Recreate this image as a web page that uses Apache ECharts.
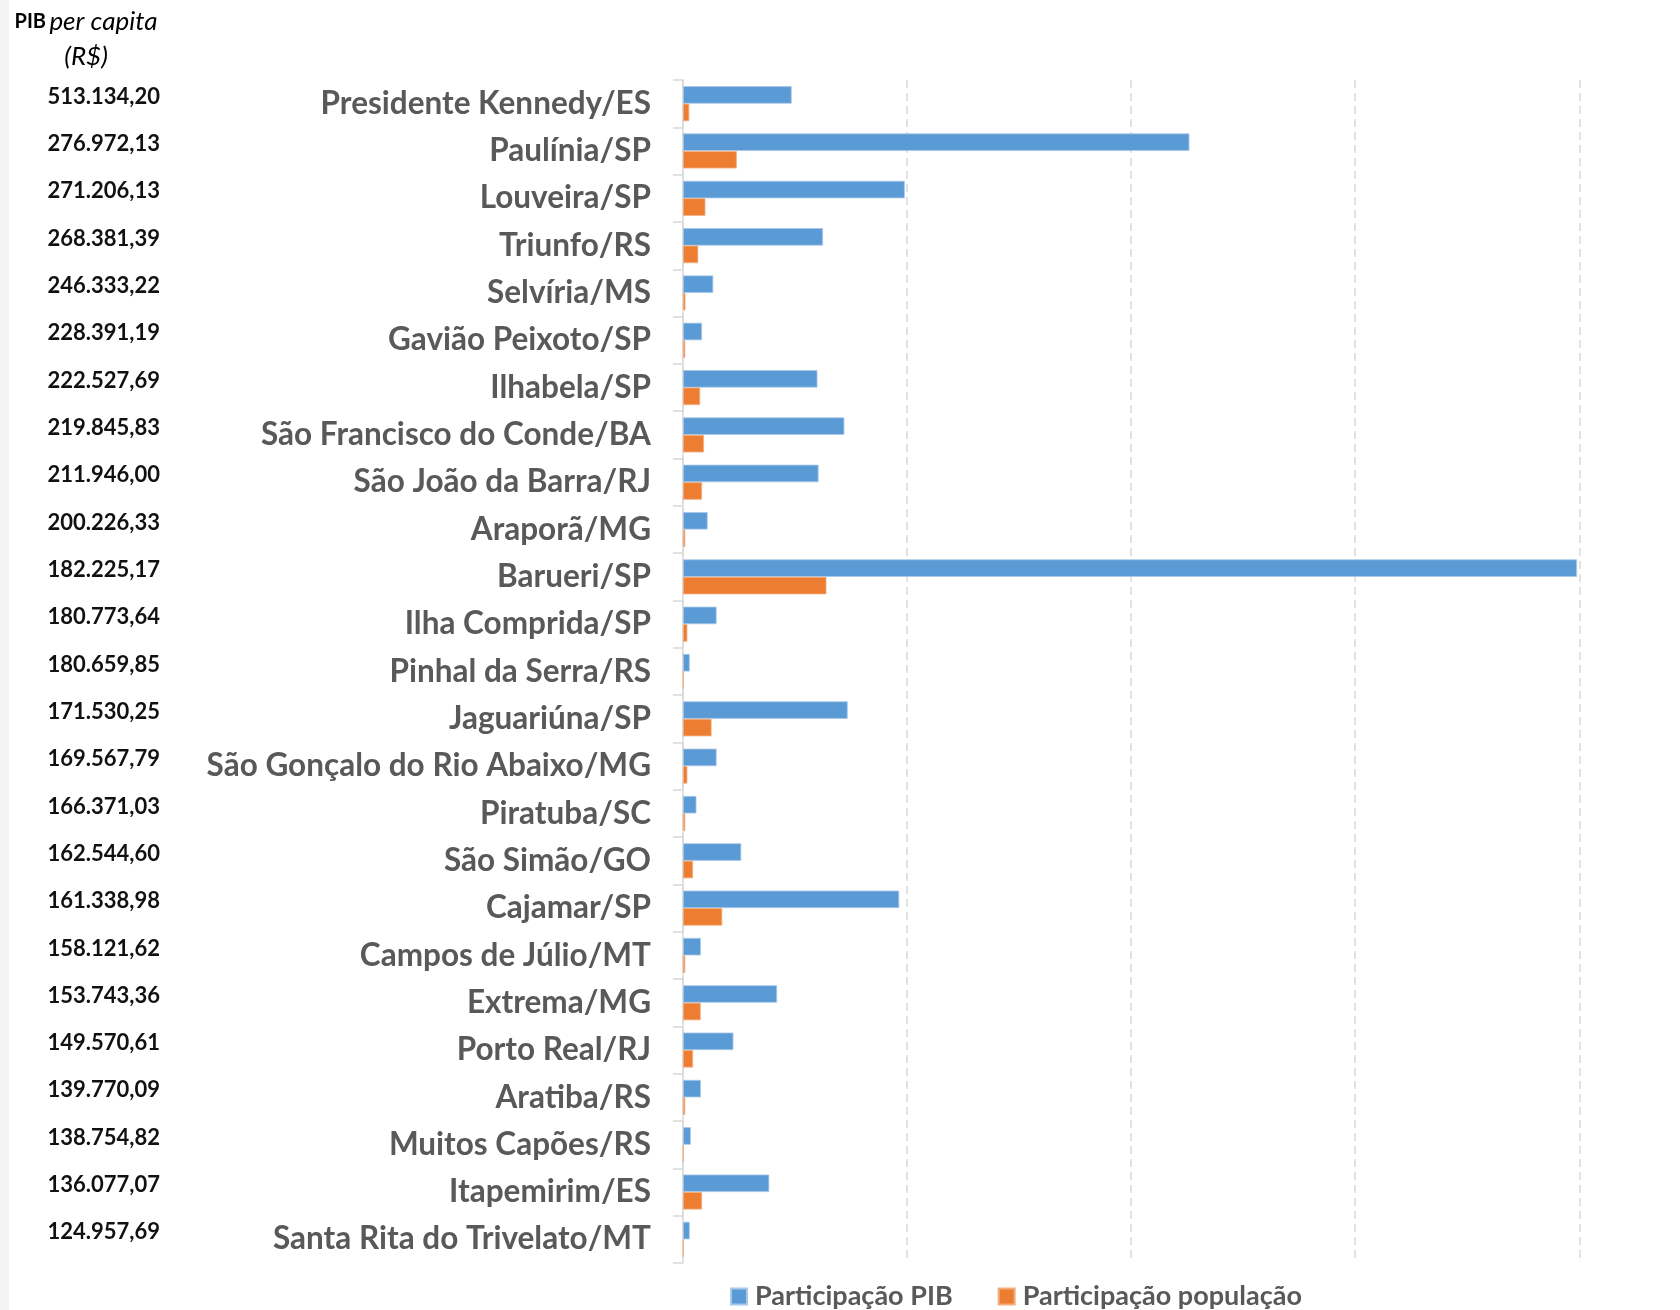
<!DOCTYPE html>
<html>
<head>
<meta charset="utf-8">
<script src="https://cdn.jsdelivr.net/npm/echarts@6/dist/echarts.min.js"></script>
<style>
html,body{margin:0;padding:0;background:#fff;}
#chart{width:1680px;height:1310px;}
</style>
</head>
<body>
<div id="chart"></div>
<script>
const categories = [
  "Presidente Kennedy/ES","Paulínia/SP","Louveira/SP","Triunfo/RS","Selvíria/MS",
  "Gavião Peixoto/SP","Ilhabela/SP","São Francisco do Conde/BA","São João da Barra/RJ","Araporã/MG",
  "Barueri/SP","Ilha Comprida/SP","Pinhal da Serra/RS","Jaguariúna/SP","São Gonçalo do Rio Abaixo/MG",
  "Piratuba/SC","São Simão/GO","Cajamar/SP","Campos de Júlio/MT","Extrema/MG",
  "Porto Real/RJ","Aratiba/RS","Muitos Capões/RS","Itapemirim/ES","Santa Rita do Trivelato/MT"
];
const pibPerCapita = [
  "513.134,20","276.972,13","271.206,13","268.381,39","246.333,22",
  "228.391,19","222.527,69","219.845,83","211.946,00","200.226,33",
  "182.225,17","180.773,64","180.659,85","171.530,25","169.567,79",
  "166.371,03","162.544,60","161.338,98","158.121,62","153.743,36",
  "149.570,61","139.770,09","138.754,82","136.077,07","124.957,69"
];
const participacaoPIB = [
  0.097,0.452,0.198,0.125,0.027,
  0.017,0.120,0.144,0.121,0.022,
  0.798,0.030,0.006,0.147,0.030,
  0.012,0.052,0.193,0.016,0.084,
  0.045,0.016,0.007,0.077,0.006
];
const participacaoPopulacao = [
  0.0056,0.048,0.020,0.0136,0.0022,
  0.002,0.0153,0.0187,0.017,0.002,
  0.128,0.0039,0.0005,0.0255,0.0039,
  0.002,0.009,0.035,0.002,0.0158,
  0.009,0.002,0.0005,0.017,0.0005
];
const seriesNames = ["Participação PIB","Participação população"];
const xTicks = {min:0, max:0.8, interval:0.2};

const chart = echarts.init(document.getElementById('chart'));
chart.setOption({
  backgroundColor:'#fff',
  animation:false,
  graphic:[{
    type:'rect', left:0, top:0, z:-1,
    shape:{width:9, height:1310},
    style:{fill:'#f4f4f4'}
  },{
    type:'text', x:86, y:4,
    style:{
      text:'{b|PIB} {i|per capita}\n{i|(R$)}',
      textAlign:'center',
      rich:{
        b:{fontFamily:'Lato',fontWeight:'bold',fontSize:20,fill:'#000',lineHeight:35},
        i:{fontFamily:'Lato',fontStyle:'italic',fontSize:26,fill:'#000',lineHeight:35}
      }
    }
  }],
  legend:{
    left:730, top:1283, padding:0,
    itemWidth:16, itemHeight:16, itemGap:45,
    icon:'rect',
    textStyle:{fontFamily:'Lato',fontWeight:'bold',fontSize:27,color:'#595959',padding:[0,0,0,3]},
    data:seriesNames
  },
  grid:{left:683, top:80, right:100.7, bottom:47, containLabel:false},
  xAxis:{
    type:'value', min:xTicks.min, max:xTicks.max, interval:xTicks.interval,
    axisLabel:{show:false}, axisLine:{show:false}, axisTick:{show:false},
    splitLine:{show:true, lineStyle:{color:'#d9d9d9', width:1.5, type:[8,5]}}
  },
  yAxis:[{
    type:'category', inverse:true, data:categories,
    axisLine:{show:true, lineStyle:{color:'#d9d9d9', width:1.5}},
    axisTick:{show:true, length:10, lineStyle:{color:'#d9d9d9', width:1.5}},
    axisLabel:{margin:32, fontFamily:'Lato', fontWeight:'bold', fontSize:31.5, color:'#595959'}
  },{
    type:'category', inverse:true, data:pibPerCapita, position:'left', offset:523,
    axisLine:{show:false}, axisTick:{show:false},
    axisLabel:{margin:0, fontFamily:'Lato', fontWeight:'bold', fontSize:22, color:'#111',
      verticalAlign:'bottom', lineHeight:14}
  }],
  series:[{
    name:seriesNames[0], type:'bar', yAxisIndex:0, data:participacaoPIB,
    barCategoryGap:'26%', barGap:'0%',
    itemStyle:{color:'#5B9BD5', borderColor:'#a9c8ea', borderWidth:0.8}
  },{
    name:seriesNames[1], type:'bar', yAxisIndex:0, data:participacaoPopulacao,
    barCategoryGap:'26%', barGap:'0%',
    itemStyle:{color:'#ED7D31', borderColor:'#f3ae80', borderWidth:0.8}
  }]
});
</script>
</body>
</html>
